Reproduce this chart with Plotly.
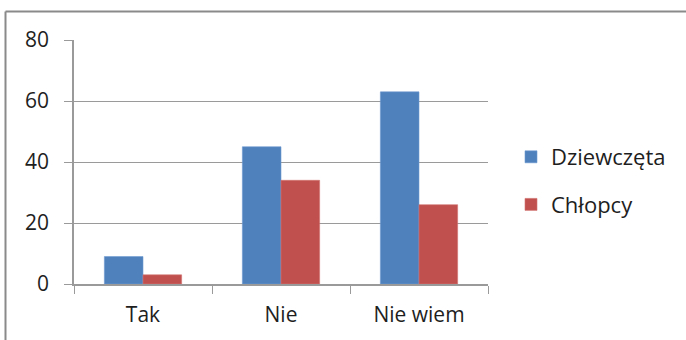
import plotly.graph_objects as go

categories = ["Tak", "Nie", "Nie wiem"]
dziewczeta = [9, 45, 63]
chlopcy = [3, 34, 26]
series_names = ["Dziewczęta", "Chłopcy"]
y_ticks = [0, 20, 40, 60, 80]

BLUE = "#4F81BD"
RED = "#C0504D"
GRID = "#9a9a9a"
FONT = "Open Sans"

W, H = 686, 340
L, R, T, B = 74, 198, 40, 56

fig = go.Figure()
fig.add_trace(go.Bar(
    x=categories, y=dziewczeta, name=series_names[0], legendgroup="d",
    marker=dict(color=BLUE, line=dict(color="#6f9bd0", width=0.6)),
))
fig.add_trace(go.Bar(
    x=categories, y=chlopcy, name=series_names[1], legendgroup="c",
    marker=dict(color=RED, line=dict(color="#d27472", width=0.6)),
))

pw = W - L - R
ph = H - T - B


def px_x(v):
    return (v - L) / pw


def px_y(v):
    return (H - B - v) / ph


fig.update_layout(
    width=W, height=H,
    margin=dict(l=L, r=R, t=T, b=B, pad=0),
    paper_bgcolor="white", plot_bgcolor="white",
    barmode="group", bargap=0.44, bargroupgap=0,
    font=dict(family=FONT, size=21, color="#1e1e1e"),
    showlegend=True,
    legend=dict(
        x=px_x(511), xanchor="left",
        y=px_y(181), yanchor="middle",
        font=dict(family=FONT, size=22, color="#1e1e1e"),
        traceorder="grouped", tracegroupgap=16,
        bgcolor="rgba(0,0,0,0)",
    ),
    xaxis=dict(
        showline=True, linecolor=GRID, linewidth=1.5,
        ticks="outside", tickson="boundaries", ticklen=8,
        tickcolor=GRID, tickwidth=1.3,
        showgrid=False, ticklabelstandoff=11,
    ),
    yaxis=dict(
        range=[0, 80], tickvals=y_ticks,
        showline=True, linecolor=GRID, linewidth=1.5,
        ticks="outside", ticklen=8, tickcolor=GRID, tickwidth=1.3,
        showgrid=True, gridcolor=GRID, gridwidth=1.3,
        zeroline=False, ticklabelstandoff=11,
    ),
    shapes=[
        dict(type="line", xref="paper", yref="paper",
             x0=px_x(5.5), x1=px_x(W + 5), y0=px_y(11.5), y1=px_y(11.5),
             line=dict(color="#8a8a8a", width=2)),
        dict(type="line", xref="paper", yref="paper",
             x0=px_x(5.5), x1=px_x(5.5), y0=px_y(11.5), y1=px_y(H + 5),
             line=dict(color="#8a8a8a", width=2)),
    ],
)

fig.write_html("out.html")
